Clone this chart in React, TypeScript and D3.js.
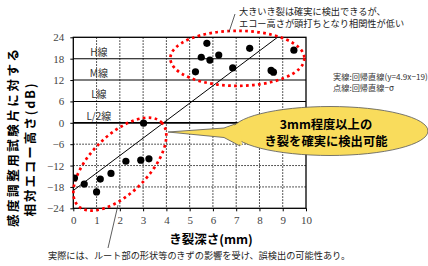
import * as d3 from 'd3';
import React, {useEffect} from 'react';

// crack depth (mm) vs relative echo height (dB)
const depths = [0.05, 0.47, 1.0, 1.16, 1.62, 2.26, 2.9, 3.25, 3.02,
  5.25, 5.5, 5.74, 5.87, 6.25, 6.85, 7.58, 8.5, 8.6, 9.48];
const echoes = [-15.5, -17.2, -19.4, -15.8, -14.2, -10.8, -10.5, -10.1, -0.1,
  14.3, 18.4, 22.3, 17.6, 19.0, 15.4, 20.9, 14.7, 14.2, 20.4];

const yTicks = [24, 18, 12, 6, 0, -6, -12, -18, -24];
const xTicks = [0, 1, 2, 3, 4, 5, 6, 7, 8, 9, 10];
const refLines = [18, 12, 6, 0];
const refNames = ['H線', 'M線', 'L線', 'L/2線'];
const dottedLines = [-6, -12, -18];

// regression y = 4.9x - 19
const slope = 4.9;
const intercept = -19;

const JP = '"Noto Sans CJK JP", "Noto Sans", sans-serif';

export default function App() {
  const ref = React.useRef(null);

  useEffect(() => {
    const svg = d3.select(ref.current);
    svg.selectAll('*').remove();

    const x = d3.scaleLinear().domain([0, 10]).range([73.3, 306]);
    const y = d3.scaleLinear().domain([-24, 24]).range([208.3, 37.3]);

    svg.append('clipPath').attr('id', 'plotclip')
      .append('rect')
      .attr('x', x(0)).attr('y', y(24))
      .attr('width', x(10) - x(0)).attr('height', y(-24) - y(24));

    // vertical dotted grid
    svg.append('g').selectAll('line')
      .data(xTicks.slice(1, -1))
      .enter().append('line')
      .attr('x1', d => x(d)).attr('x2', d => x(d))
      .attr('y1', y(24)).attr('y2', y(-24))
      .attr('stroke', '#222').attr('stroke-width', 1)
      .attr('stroke-dasharray', '1.5,1.5');

    svg.append('g').selectAll('line')
      .data(dottedLines)
      .enter().append('line')
      .attr('x1', x(0)).attr('x2', x(10))
      .attr('y1', d => y(d)).attr('y2', d => y(d))
      .attr('stroke', '#222').attr('stroke-width', 1)
      .attr('stroke-dasharray', '1.5,1.5');

    svg.append('g').selectAll('line')
      .data(refLines)
      .enter().append('line')
      .attr('x1', x(0)).attr('x2', x(10))
      .attr('y1', d => y(d)).attr('y2', d => y(d))
      .attr('stroke', '#000').attr('stroke-width', d => d === 0 ? 1.8 : 1.1);

    svg.append('g').selectAll('text')
      .data(refLines)
      .enter().append('text')
      .attr('x', x(1.1)).attr('y', d => y(d) - 3)
      .attr('text-anchor', 'middle')
      .attr('font-family', JP).attr('font-size', 10).attr('fill', '#333')
      .text((d, i) => refNames[i]);

    // frame
    svg.append('rect')
      .attr('x', x(0)).attr('y', y(24))
      .attr('width', x(10) - x(0)).attr('height', y(-24) - y(24))
      .attr('fill', 'none').attr('stroke', '#000').attr('stroke-width', 1.3);

    // axes
    const fmt = (d) => String(d).replace('-', '\u2212');
    const yAxis = svg.append('g')
      .attr('transform', 'translate(' + x(0) + ',0)')
      .call(d3.axisLeft(y).tickValues(yTicks).tickSize(3).tickPadding(6).tickFormat(fmt));
    const xAxis = svg.append('g')
      .attr('transform', 'translate(0,' + y(-24) + ')')
      .call(d3.axisBottom(x).tickValues(xTicks).tickSize(3).tickPadding(5));
    [xAxis, yAxis].forEach(a => {
      a.select('.domain').remove();
      a.selectAll('text')
        .attr('font-family', '"Liberation Serif", serif')
        .attr('font-size', 11).attr('fill', '#444');
    });

    // regression line
    const xEnd = (24 - intercept) / slope;
    svg.append('line')
      .attr('x1', x(0)).attr('y1', y(intercept))
      .attr('x2', x(xEnd)).attr('y2', y(24))
      .attr('stroke', '#000').attr('stroke-width', 1);

    // red dotted ellipses
    svg.append('ellipse')
      .attr('cx', x(7.05)).attr('cy', y(18.1))
      .attr('rx', 67).attr('ry', 27.5)
      .attr('fill', 'none').attr('stroke', '#f00')
      .attr('stroke-width', 2.7).attr('stroke-dasharray', '2.7,3.3');
    svg.append('ellipse')
      .attr('transform', 'translate(' + x(2.0) + ',' + y(-11.6) + ') rotate(-45)')
      .attr('rx', 59).attr('ry', 29)
      .attr('fill', 'none').attr('stroke', '#f00')
      .attr('stroke-width', 2.7).attr('stroke-dasharray', '2.7,3.3');

    // points
    svg.append('g').attr('clip-path', 'url(#plotclip)')
      .selectAll('circle')
      .data(depths)
      .enter().append('circle')
      .attr('cx', d => x(d))
      .attr('cy', (d, i) => y(echoes[i]))
      .attr('r', 3.6)
      .attr('fill', '#000');

    // callout bubble
    const bubble = svg.append('g');
    const tail = 'M168,132 L224,128 L238,123 L240,146 L224,137.5 Z';
    bubble.append('path').attr('d', tail)
      .attr('fill', '#f9dc5c').attr('stroke', '#555').attr('stroke-width', 0.8);
    bubble.append('ellipse')
      .attr('cx', 330).attr('cy', 131).attr('rx', 98).attr('ry', 24.5)
      .attr('fill', '#f9dc5c').attr('stroke', '#555').attr('stroke-width', 0.8);
    bubble.append('path').attr('d', 'M226,128 L240,123.5 L242,145.5 L226,137 Z')
      .attr('fill', '#f9dc5c');
    bubble.selectAll('text')
      .data(['3mm程度以上の', 'き裂を確実に検出可能'])
      .enter().append('text')
      .attr('x', 326).attr('y', (d, i) => 128.5 + i * 17.5)
      .attr('text-anchor', 'middle')
      .attr('font-family', JP).attr('font-weight', 'bold').attr('font-size', 12.3)
      .attr('fill', '#000')
      .text(d => d);

    // notes
    svg.append('line').attr('x1', 235).attr('y1', 14).attr('x2', 229).attr('y2', 32)
      .attr('stroke', '#333').attr('stroke-width', 0.8);
    svg.append('g').selectAll('text')
      .data(['大きいき裂は確実に検出できるが、', 'エコー高さが頭打ちとなり相関性が低い'])
      .enter().append('text')
      .attr('x', 239).attr('y', (d, i) => 14.5 + i * 12.5)
      .attr('font-family', JP).attr('font-size', 9.2).attr('fill', '#222')
      .text(d => d);

    svg.append('g').selectAll('text')
      .data(['実線:回帰直線(y=4.9x\u221219)', '点線:回帰直線\u2212σ'])
      .enter().append('text')
      .attr('x', 333).attr('y', (d, i) => 80 + i * 11)
      .attr('font-family', JP).attr('font-size', 8.2).attr('fill', '#333')
      .text(d => d);

    svg.append('line').attr('x1', 108).attr('y1', 248).attr('x2', 118).attr('y2', 205)
      .attr('stroke', '#333').attr('stroke-width', 0.8);
    svg.append('text')
      .attr('x', 48).attr('y', 258.5)
      .attr('font-family', JP).attr('font-size', 9.2).attr('fill', '#222')
      .text('実際には、ルート部の形状等のきずの影響を受け、誤検出の可能性あり。');

    // axis titles
    svg.append('text')
      .attr('x', 211).attr('y', 244).attr('text-anchor', 'middle')
      .attr('font-family', JP).attr('font-weight', 'bold').attr('font-size', 12.5)
      .text('き裂深さ(mm)');

    svg.append('text')
      .attr('transform', 'translate(18,138) rotate(-90)')
      .attr('text-anchor', 'middle')
      .attr('font-family', JP).attr('font-weight', 'bold').attr('font-size', 12.5)
      .attr('textLength', 178).attr('lengthAdjust', 'spacing')
      .text('感度調整用試験片に対する');
    svg.append('text')
      .attr('transform', 'translate(35,150) rotate(-90)')
      .attr('text-anchor', 'middle')
      .attr('font-family', JP).attr('font-weight', 'bold').attr('font-size', 12.5)
      .attr('textLength', 133).attr('lengthAdjust', 'spacing')
      .text('相対エコー高さ(dB)');
  }, []);

  return (
    <svg ref={ref} width={428} height={266}
      style={{position: 'absolute', left: 0, top: 0, background: '#fff'}} />
  );
}
